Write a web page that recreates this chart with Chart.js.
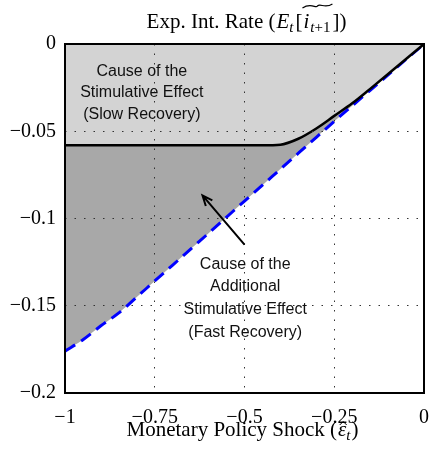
<!DOCTYPE html>
<html>
<head>
<meta charset="utf-8">
<script src="https://cdn.jsdelivr.net/npm/chart.js@4.4.1/dist/chart.umd.min.js"></script>
<style>
  html, body { margin: 0; padding: 0; background: #fff; }
</style>
</head>
<body>
<canvas id="myChart" width="430" height="454"></canvas>
<script>
// monetary policy shock (x axis)
const shock = [-1, -0.95, -0.9, -0.85, -0.8, -0.75, -0.7, -0.65, -0.6, -0.55, -0.5,
  -0.45, -0.4, -0.35, -0.3, -0.25, -0.2, -0.15, -0.1, -0.05, 0];
// expected interest rate, slow recovery (black solid)
const slowRecovery = [-0.058, -0.058, -0.058, -0.058, -0.058, -0.058, -0.058, -0.058, -0.058, -0.058, -0.058,
  -0.058, -0.0577, -0.0543, -0.0484, -0.0412, -0.034, -0.0257, -0.0172, -0.0086, 0];
// expected interest rate, fast recovery (blue dashed)
const fastRecovery = [-0.176, -0.1695, -0.1615, -0.1541, -0.145, -0.1358, -0.1267, -0.1175, -0.1084, -0.0992, -0.09,
  -0.0809, -0.0717, -0.0626, -0.0535, -0.0443, -0.0354, -0.0265, -0.0177, -0.0088, 0];

const xTicks = [-1, -0.75, -0.5, -0.25, 0];
const yTicks = [0, -0.05, -0.1, -0.15, -0.2];

const titleText = "Exp. Int. Rate (";
const xTitleText = "Monetary Policy Shock (";
const noteSlow = ["Cause of the", "Stimulative Effect", "(Slow Recovery)"];
const noteFast = ["Cause of the", "Additional", "Stimulative Effect", "(Fast Recovery)"];

const serif = "'Liberation Serif', 'DejaVu Serif', serif";
const sans = "'Liberation Sans', Arial, sans-serif";

function fmt(v) {
  if (Math.abs(v) < 1e-9) return "0";
  return "\u2212" + String(+Math.abs(v).toFixed(2));
}

// draws a row of text pieces (roman / italic / subscript) centred on cx
function drawRuns(ctx, runs, cx, y) {
  let total = 0;
  runs.forEach(r => { ctx.font = r.font; r.w = ctx.measureText(r.t).width + (r.gap || 0); total += r.w; });
  let x = cx - total / 2;
  ctx.textBaseline = "alphabetic";
  ctx.textAlign = "left";
  runs.forEach(r => {
    ctx.font = r.font;
    r.x = x;
    ctx.fillText(r.t, x, y + (r.dy || 0));
    x += r.w;
  });
  return runs;
}

const extras = {
  id: "extras",
  afterDraw(chart) {
    const ctx = chart.ctx;
    const a = chart.chartArea;
    const sx = chart.scales.x, sy = chart.scales.y;
    ctx.save();

    // box round the plot
    ctx.strokeStyle = "#000";
    ctx.lineWidth = 2;
    ctx.strokeRect(a.left, a.top, a.right - a.left, a.bottom - a.top);

    ctx.fillStyle = "#000";
    const cx = (a.left + a.right) / 2;

    // title
    const t = drawRuns(ctx, [
      { t: titleText, font: "21px " + serif, gap: 1 },
      { t: "E", font: "italic 21px " + serif },
      { t: "t", font: "italic 15px " + serif, dy: 4, gap: 2 },
      { t: "[", font: "21px " + serif, gap: 1 },
      { t: "i", font: "italic 21px " + serif, gap: 1 },
      { t: "t", font: "italic 15px " + serif, dy: 4 },
      { t: "+1", font: "15px " + serif, dy: 4, gap: 2 },
      { t: "])", font: "21px " + serif }
    ], cx + 2, 28);
    const tx0 = t[4].x - 1, tx1 = t[6].x + t[6].w;
    ctx.lineWidth = 1.2;
    ctx.beginPath();
    ctx.moveTo(tx0, 8);
    ctx.bezierCurveTo(tx0 + (tx1 - tx0) * 0.3, 2, tx0 + (tx1 - tx0) * 0.45, 9, (tx0 + tx1) / 2, 6);
    ctx.bezierCurveTo(tx0 + (tx1 - tx0) * 0.6, 3, tx0 + (tx1 - tx0) * 0.75, 9, tx1, 4);
    ctx.stroke();

    // x axis title
    const xr = drawRuns(ctx, [
      { t: xTitleText, font: "21px " + serif, gap: 1 },
      { t: "\u03b5", font: "italic 21px " + serif },
      { t: "t", font: "italic 15px " + serif, dy: 4, gap: 1 },
      { t: ")", font: "21px " + serif }
    ], cx - 2, 436);
    const hx = xr[1].x + xr[1].w / 2 + 1;
    ctx.lineWidth = 1;
    ctx.beginPath();
    ctx.moveTo(hx - 3.5, 425);
    ctx.lineTo(hx, 421.5);
    ctx.lineTo(hx + 3.5, 425);
    ctx.stroke();

    // annotations
    ctx.font = "16px " + sans;
    ctx.textAlign = "center";
    ctx.textBaseline = "middle";
    ctx.fillStyle = "#111";
    const slowY = [-0.016, -0.028, -0.0405];
    noteSlow.forEach((s, i) => ctx.fillText(s, sx.getPixelForValue(-0.786), sy.getPixelForValue(slowY[i])));
    const fastY = [-0.1266, -0.1393, -0.1524, -0.1656];
    noteFast.forEach((s, i) => ctx.fillText(s, sx.getPixelForValue(-0.498), sy.getPixelForValue(fastY[i])));

    // arrow
    const x0 = sx.getPixelForValue(-0.5), y0 = sy.getPixelForValue(-0.115);
    const x1 = sx.getPixelForValue(-0.617), y1 = sy.getPixelForValue(-0.0868);
    ctx.strokeStyle = "#000";
    ctx.lineWidth = 2;
    ctx.beginPath();
    ctx.moveTo(x0, y0);
    ctx.lineTo(x1, y1);
    const ang = Math.atan2(y1 - y0, x1 - x0);
    ctx.moveTo(x1 + 11 * Math.cos(ang + Math.PI - 0.4), y1 + 11 * Math.sin(ang + Math.PI - 0.4));
    ctx.lineTo(x1, y1);
    ctx.lineTo(x1 + 11 * Math.cos(ang + Math.PI + 0.4), y1 + 11 * Math.sin(ang + Math.PI + 0.4));
    ctx.stroke();

    ctx.restore();
  }
};

new Chart(document.getElementById("myChart").getContext("2d"), {
  type: "line",
  data: {
    labels: shock,
    datasets: [
      {
        label: "Slow Recovery",
        data: shock.map((x, i) => ({ x: x, y: slowRecovery[i] })),
        borderColor: "#000",
        borderWidth: 2.5,
        backgroundColor: "#d3d3d3",
        fill: "end",
        pointRadius: 0,
        cubicInterpolationMode: "monotone"
      },
      {
        label: "Fast Recovery",
        data: shock.map((x, i) => ({ x: x, y: fastRecovery[i] })),
        borderColor: "#0000ff",
        borderWidth: 3,
        borderDash: [12, 7],
        backgroundColor: "#a8a8a8",
        fill: "-1",
        pointRadius: 0,
        cubicInterpolationMode: "monotone"
      }
    ]
  },
  options: {
    responsive: false,
    animation: false,
    layout: { padding: { top: 44, right: 6, left: 0, bottom: 0 } },
    plugins: { legend: { display: false }, tooltip: { enabled: false } },
    scales: {
      x: {
        type: "linear",
        min: -1,
        max: 0,
        afterBuildTicks: s => { s.ticks = xTicks.map(v => ({ value: v })); },
        afterFit: s => { s.height = 61; s.paddingLeft = 0; s.paddingRight = 0; },
        grid: { color: "#333", lineWidth: 1, drawTicks: false, z: 1 },
        border: { display: false, dash: [1.5, 8] },
        ticks: {
          color: "#000",
          padding: 13,
          maxRotation: 0,
          font: { family: serif, size: 20 },
          callback: v => fmt(v)
        }
      },
      y: {
        min: -0.2,
        max: 0,
        afterBuildTicks: s => { s.ticks = yTicks.map(v => ({ value: v })); },
        afterFit: s => { s.width = 65; s.paddingTop = 0; s.paddingBottom = 0; },
        grid: { color: "#333", lineWidth: 1, drawTicks: false, z: 1 },
        border: { display: false, dash: [1.5, 8] },
        ticks: {
          color: "#000",
          padding: 9,
          font: { family: serif, size: 20 },
          callback: v => fmt(v)
        }
      }
    }
  },
  plugins: [extras]
});
</script>
</body>
</html>
